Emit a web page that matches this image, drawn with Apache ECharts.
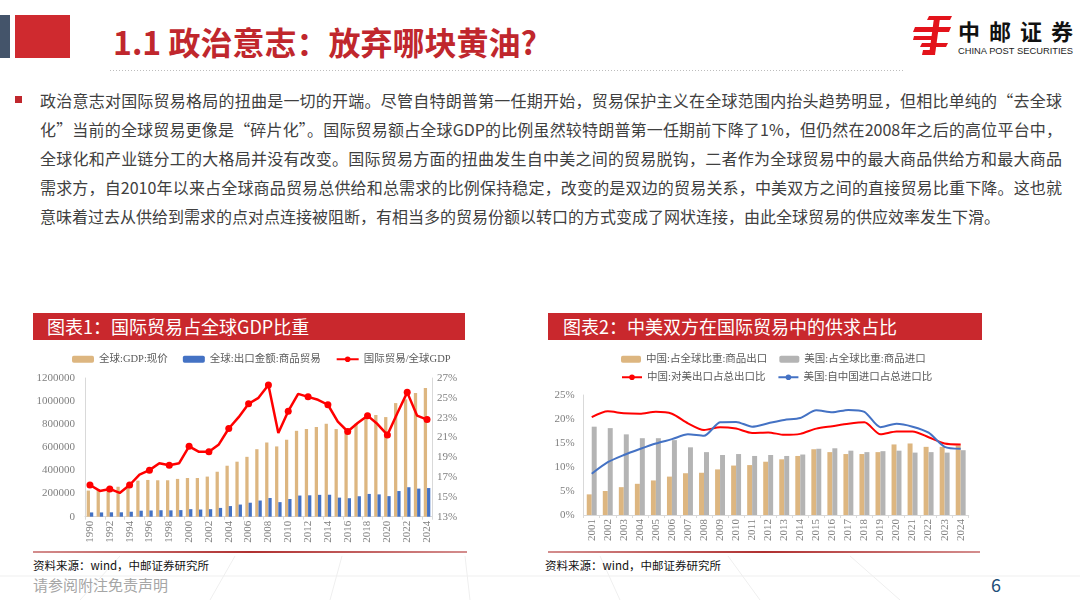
<!DOCTYPE html>
<html><head><meta charset="utf-8">
<script src="https://cdn.jsdelivr.net/npm/echarts@6/dist/echarts.min.js"></script>
<style>
body{margin:0;width:1080px;height:600px;overflow:hidden;background:#fff;font-family:'Noto Sans CJK SC',sans-serif;position:relative}
.abs{position:absolute}
.ln{position:absolute;left:40px;width:1022px;font-size:16px;line-height:20px;color:#404040;white-space:nowrap;text-align:justify;text-align-last:justify}
.bar{position:absolute;top:313px;height:27px;background:#C9282D;color:#fff;font-size:18px;line-height:27px;white-space:nowrap}
.src{position:absolute;top:557px;font-size:11.5px;color:#111;line-height:16px}
.sep{position:absolute;top:551px;height:1.5px;background:linear-gradient(90deg,rgba(176,48,48,0.55),#B03030 50%,rgba(176,48,48,0.55))}
</style></head><body>
<svg class="abs" style="left:0;top:0" width="1080" height="600">
  <g stroke="#efefef" stroke-width="1" fill="none">
    <line x1="80" y1="600" x2="120" y2="556"/><line x1="210" y1="600" x2="235" y2="556"/>
    <line x1="330" y1="600" x2="342" y2="556"/><line x1="470" y1="600" x2="465" y2="556"/>
    <line x1="620" y1="600" x2="600" y2="556"/><line x1="760" y1="600" x2="728" y2="556"/>
    <line x1="900" y1="600" x2="850" y2="556"/><line x1="0" y1="576" x2="1080" y2="576"/>
  </g>
  <rect x="0" y="15" width="10" height="43" fill="#44546A"/>
  <rect x="15" y="15" width="55" height="43" fill="#CF2A2F"/>
  <g fill="#E3131B">
    <polygon points="929,16 952,16 950,20 927,20"/>
    <polygon points="915,27 951,27 949,32 913,32"/>
    <polygon points="914,36 934,36 933,40 913,40"/>
    <polygon points="922,43 948,43 946,47 920,47"/>
    <polygon points="934,18 940,18 935,55 929,55"/>
    <polygon points="923,50 931,50 930,55 922,55"/>
  </g>
  <text x="958" y="40" font-size="22" font-weight="bold" fill="#111" textLength="115" lengthAdjust="spacing" font-family="Noto Sans CJK SC">中邮证券</text>
  <text x="958" y="54" font-size="9.5" fill="#222" textLength="115" lengthAdjust="spacingAndGlyphs" font-family="Liberation Sans">CHINA POST SECURITIES</text>
  <line x1="110" y1="70.5" x2="905" y2="70.5" stroke="#bdbdbd" stroke-width="1" stroke-dasharray="1,2"/>
  <rect x="15" y="96" width="7" height="7" fill="#C0272D"/>
</svg>
<div class="abs" style="left:113px;top:19px;font-size:32px;font-weight:bold;color:#C0272D;line-height:44px;white-space:nowrap">1.1 政治意志：放弃哪块黄油?</div>

<div class="ln" style="top:90px">政治意志对国际贸易格局的扭曲是一切的开端。尽管自特朗普第一任期开始，贸易保护主义在全球范围内抬头趋势明显，但相比单纯的“去全球</div>
<div class="ln" style="top:119px">化”当前的全球贸易更像是“碎片化”。国际贸易额占全球GDP的比例虽然较特朗普第一任期前下降了1%，但仍然在2008年之后的高位平台中，</div>
<div class="ln" style="top:148px">全球化和产业链分工的大格局并没有改变。国际贸易方面的扭曲发生自中美之间的贸易脱钩，二者作为全球贸易中的最大商品供给方和最大商品</div>
<div class="ln" style="top:177px">需求方，自2010年以来占全球商品贸易总供给和总需求的比例保持稳定，改变的是双边的贸易关系，中美双方之间的直接贸易比重下降。这也就</div>
<div class="ln" style="top:206px;text-align:left;text-align-last:left">意味着过去从供给到需求的点对点连接被阻断，有相当多的贸易份额以转口的方式变成了网状连接，由此全球贸易的供应效率发生下滑。</div>

<div class="bar" style="left:33px;width:432px"><span style="margin-left:14px">图表1：国际贸易占全球GDP比重</span></div>
<div class="bar" style="left:548px;width:434px"><span style="margin-left:15px">图表2：中美双方在国际贸易中的供求占比</span></div>

<div id="c1" class="abs" style="left:33px;top:340px;width:434px;height:211px"></div>
<div id="c2" class="abs" style="left:548px;top:340px;width:435px;height:211px"></div>

<div class="sep" style="left:33px;width:434px"></div>
<div class="sep" style="left:548px;width:432px"></div>
<div class="src" style="left:33px">资料来源：wind，中邮证券研究所</div>
<div class="src" style="left:545px">资料来源：wind，中邮证券研究所</div>
<div class="abs" style="left:33px;top:575px;font-size:15px;color:#A6A6A6;line-height:20px">请参阅附注免责声明</div>
<div class="abs" style="left:991px;top:572px;font-size:18px;color:#1F4E79;line-height:24px">6</div>

<script>
const years1 = ['1990','1991','1992','1993','1994','1995','1996','1997','1998','1999','2000','2001','2002','2003','2004','2005','2006','2007','2008','2009','2010','2011','2012','2013','2014','2015','2016','2017','2018','2019','2020','2021','2022','2023','2024'];
const gdpCurrent = [226000,239000,254000,259000,272000,312000,318000,315000,315000,327000,335000,335000,347000,389000,441000,476000,518000,584000,642000,608000,666000,743000,759000,776000,804000,758000,745000,805000,853000,880000,862000,983000,1015000,1070000,1113000];
const goodsExports = [37000,37000,38000,38000,43000,52000,54000,56000,55000,57000,65000,62000,65000,76000,92000,105000,121000,140000,162000,126000,153000,183000,185000,189000,190000,165000,160000,177000,197000,193000,178000,222000,255000,243000,248000];
const tradeToGdp = [16.2,15.6,15.8,15.4,16.2,17.25,17.7,18.4,18.2,18.4,20.1,19.55,19.55,20.3,21.9,23.05,24.4,25.0,26.3,21.45,23.65,25.4,25.1,24.8,24.3,22.6,21.6,22.45,23.2,22.35,21.25,23.45,25.55,23.2,22.8];

const years2 = ['2001','2002','2003','2004','2005','2006','2007','2008','2009','2010','2011','2012','2013','2014','2015','2016','2017','2018','2019','2020','2021','2022','2023','2024'];
const cnExportShare = [4.3,5.0,5.8,6.5,7.2,8.0,8.7,8.8,9.5,10.3,10.4,11.1,11.6,12.3,13.7,13.1,12.7,12.7,13.1,14.7,14.9,14.2,14.2,14.5];
const usImportShare = [18.4,18.1,16.8,16.0,16.0,15.6,14.1,13.1,12.5,12.7,12.3,12.5,12.3,12.6,13.8,13.9,13.4,13.1,13.3,13.4,13.0,13.1,13.0,13.5];
const cnToUsShare = [20.4,21.6,21.2,21.1,21.5,21.1,19.1,17.7,18.3,18.0,17.1,17.2,16.7,16.9,18.0,18.5,19.0,19.3,16.8,17.4,17.4,16.2,14.9,14.7];
const usFromCnShare = [8.6,11.0,12.5,13.75,14.9,15.8,16.8,16.5,19.3,19.4,18.4,19.1,19.8,20.2,21.8,21.4,21.9,21.5,18.3,19.0,18.4,17.15,14.2,13.8];

const serif = "'Liberation Serif','Noto Sans CJK SC',serif";
const lab = {color:'#7f7f7f', fontFamily:serif, fontSize:11};
const axLine = {show:true, lineStyle:{color:'#d9d9d9', width:1}};
const tan = '#DDB680', blue = '#4472C4', grey = '#B4B4B4', red = '#FF0000';

const c1 = echarts.init(document.getElementById('c1'), null, {renderer:'canvas'});
c1.setOption({
  animation:false,
  legend:{left:34, top:9, itemWidth:22, itemHeight:7, itemGap:15,
    textStyle:{color:'#595959', fontSize:10.5, fontFamily:serif},
    data:['全球:GDP:现价','全球:出口金额:商品贸易','国际贸易/全球GDP']},
  grid:{left:52, right:35, top:38, bottom:34.3},
  xAxis:{type:'category', data:years1, axisLine:axLine,
    axisTick:{show:true, length:3, lineStyle:{color:'#d9d9d9'}},
    axisLabel:Object.assign({interval:1, rotate:90, margin:4}, lab)},
  yAxis:[
    {type:'value', min:0, max:1200000, interval:200000, axisLine:axLine, axisTick:{show:false},
     splitLine:{show:false}, axisLabel:Object.assign({margin:10, formatter:function(v){return String(v);}}, lab)},
    {type:'value', min:13, max:27, interval:2, position:'right', axisLine:axLine, axisTick:{show:false},
     splitLine:{show:false}, axisLabel:Object.assign({margin:5, formatter:'{value}%'}, lab)}
  ],
  series:[
    {name:'全球:GDP:现价', type:'bar', data:gdpCurrent, barWidth:'33%', barGap:'0%', itemStyle:{color:tan}},
    {name:'全球:出口金额:商品贸易', type:'bar', data:goodsExports, barWidth:'33%', itemStyle:{color:blue}},
    {name:'国际贸易/全球GDP', type:'line', yAxisIndex:1, data:tradeToGdp, symbol:'circle', symbolSize:7,
     lineStyle:{color:red, width:2.5}, itemStyle:{color:red}, z:5}
  ]
});

const c2 = echarts.init(document.getElementById('c2'), null, {renderer:'canvas'});
const lg2 = {left:68, itemWidth:20, itemHeight:7, itemGap:12, textStyle:{color:'#595959', fontSize:10.5, fontFamily:serif}};
c2.setOption({
  animation:false,
  legend:[
    Object.assign({top:9, data:['中国:占全球比重:商品出口','美国:占全球比重:商品进口']}, lg2),
    Object.assign({top:27, data:['中国:对美出口占总出口比','美国:自中国进口占总进口比']}, lg2)
  ],
  grid:{left:35.7, right:14.3, top:55, bottom:36},
  xAxis:{type:'category', data:years2, axisLine:axLine,
    axisTick:{show:true, length:3, lineStyle:{color:'#d9d9d9'}},
    axisLabel:Object.assign({interval:0, rotate:90, margin:4}, lab)},
  yAxis:{type:'value', min:0, max:25, interval:5, axisLine:axLine, axisTick:{show:false},
    splitLine:{show:false}, axisLabel:Object.assign({margin:9, formatter:'{value}%'}, lab)},
  series:[
    {name:'中国:占全球比重:商品出口', type:'bar', data:cnExportShare, barWidth:'31%', barGap:'0%', itemStyle:{color:tan}},
    {name:'美国:占全球比重:商品进口', type:'bar', data:usImportShare, barWidth:'31%', itemStyle:{color:grey}},
    {name:'中国:对美出口占总出口比', type:'line', data:cnToUsShare, symbol:'none', smooth:0.25,
     lineStyle:{color:red, width:2}, itemStyle:{color:red}, z:5},
    {name:'美国:自中国进口占总进口比', type:'line', data:usFromCnShare, symbol:'none', smooth:0.25,
     lineStyle:{color:blue, width:2}, itemStyle:{color:blue}, z:5}
  ]
});
</script>
</body></html>
